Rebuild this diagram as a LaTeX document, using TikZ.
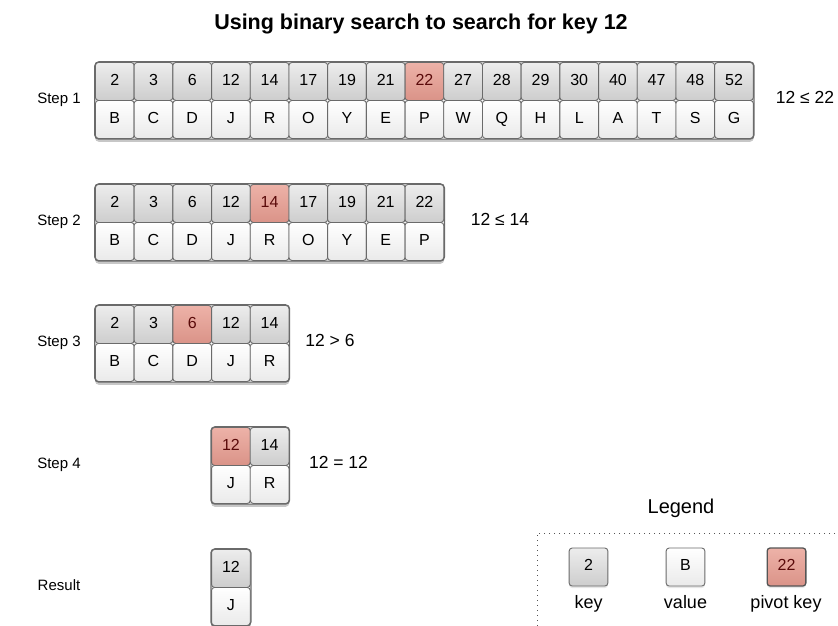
\documentclass[tikz,border=0pt]{standalone}
\usepackage{fontspec}
\setmainfont{Liberation Sans}
\usetikzlibrary{shadows,fit}
\pgfdeclarelayer{background}
\pgfsetlayers{background,main}

\definecolor{cellborder}{HTML}{6A6A6A}
\definecolor{keytop}{HTML}{EDEDED}
\definecolor{keybot}{HTML}{CDCDCD}
\definecolor{valbot}{HTML}{EAEAEA}
\definecolor{pivtop}{HTML}{EDB2A8}
\definecolor{pivbot}{HTML}{DA9388}
\definecolor{pivtext}{HTML}{5A0A0A}
\definecolor{legline}{HTML}{555555}

\tikzset{
  capbox/.style={text height=0.716em, text depth=0pt},
  cellbase/.style={draw=cellborder, line width=0.9pt, rounded corners=3pt,
    minimum width=38.7pt, minimum height=38pt, inner sep=0pt,
    font=\fontsize{16}{19}\selectfont, capbox},
  keycell/.style={cellbase, top color=keytop, bottom color=keybot},
  valcell/.style={cellbase, top color=white, bottom color=valbot},
  pivotcell/.style={cellbase, top color=pivtop, bottom color=pivbot, text=pivtext},
  framefill/.style={fill=white, rounded corners=4pt, inner sep=0pt,
    drop shadow={shadow xshift=0pt, shadow yshift=-3pt, opacity=0.22, fill=black}},
  frameline/.style={draw=cellborder, line width=1.2pt, rounded corners=4pt},
  steplabel/.style={font=\fontsize{15}{18}\selectfont, capbox},
  cmplabel/.style={font=\fontsize{17.5}{20}\selectfont, capbox},
  leglabel/.style={font=\fontsize{18}{21}\selectfont, capbox},
  legshadow/.style={drop shadow={shadow xshift=0pt, shadow yshift=-2pt, opacity=0.2}},
}

% one key/value table: #1 name prefix, #2 left x, #3 top y,
% #4 key/value pairs, #5 index of the pivot cell, #6 index of the last cell
\newcommand\kvtable[6]{
  \foreach \k/\v [count=\i from 0] in {#4} {
    \ifnum\i=#5 \def\kst{pivotcell}\else\def\kst{keycell}\fi
    \node[\kst, anchor=north west] (#1k\i) at (#2+\i*38.7, #3) {\k};
    \node[valcell, anchor=north west] (#1v\i) at (#2+\i*38.7, #3+38) {\v};
  }
  \begin{pgfonlayer}{background}
    \node[framefill, fit=(#1k0)(#1v#6)] (#1frame) {};
  \end{pgfonlayer}
  \draw[frameline] (#1frame.north west) rectangle (#1frame.south east);
}

\begin{document}
\begin{tikzpicture}[x=1pt, y=-1pt]
\useasboundingbox (0,0) rectangle (838,625);

\node[font=\bfseries\fontsize{21.5}{25}\selectfont, anchor=base] (title) at (421,29)
  {Using binary search to search for key 12};

% step 1
\kvtable{a}{95}{62}{2/B,3/C,6/D,12/J,14/R,17/O,19/Y,21/E,22/P,27/W,28/Q,29/H,30/L,40/A,47/T,48/S,52/G}{8}{16}
% step 2
\kvtable{b}{95}{184}{2/B,3/C,6/D,12/J,14/R,17/O,19/Y,21/E,22/P}{4}{8}
% step 3
\kvtable{c}{95}{305}{2/B,3/C,6/D,12/J,14/R}{2}{4}
% step 4
\kvtable{d}{211.1}{427}{12/J,14/R}{0}{1}
% result
\kvtable{e}{211.1}{549}{12/J}{-1}{0}

\node[steplabel] (l1) at (59,100) {Step 1};
\node[steplabel] (l2) at (59,222) {Step 2};
\node[steplabel] (l3) at (59,343) {Step 3};
\node[steplabel] (l4) at (59,465) {Step 4};
\node[steplabel] (l5) at (59,587) {Result};

\node[cmplabel] (c1) at (805,100) {12 ≤ 22};
\node[cmplabel] (c2) at (500,222) {12 ≤ 14};
\node[cmplabel] (c3) at (330,343) {12 > 6};
\node[cmplabel] (c4) at (338.5,465) {12 = 12};

% legend
\node[font=\fontsize{20}{24}\selectfont, capbox] (legtitle) at (681,510) {Legend};
\coordinate (legcorner) at (537,533);
\coordinate (legright) at (840,533);
\coordinate (legbottom) at (537,627);
\draw[legline, line width=0.9pt, dash pattern=on 1.2pt off 3.8pt]
  (legright) -- (legcorner) -- (legbottom);
\node[keycell, legshadow] (legkey) at (588.5,567) {2};
\node[valcell, legshadow] (legval) at (685.5,567) {B};
\node[pivotcell, line width=1.3pt, draw=legline, legshadow] (legpiv) at (786.5,567) {22};
\node[leglabel] (legkeyt) at (588.5,605) {key};
\node[leglabel] (legvalt) at (685.5,605) {value};
\node[leglabel] (legpivt) at (786,605) {pivot key};
\end{tikzpicture}
\end{document}
